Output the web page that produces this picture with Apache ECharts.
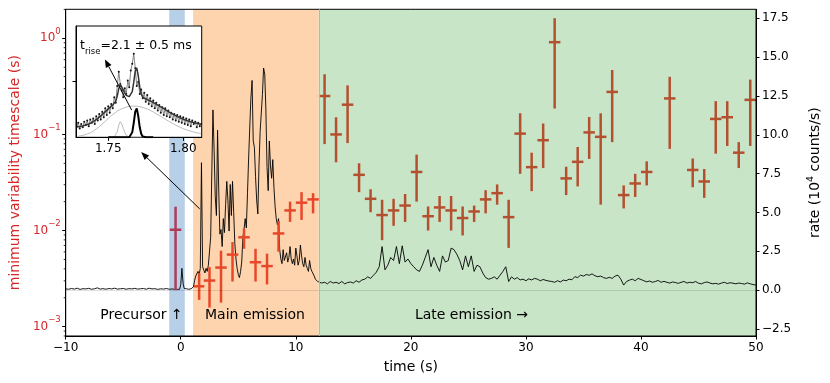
<!DOCTYPE html>
<html>
<head>
<meta charset="utf-8">
<script src="https://cdn.jsdelivr.net/npm/echarts@6/dist/echarts.min.js"></script>
<style>
html,body{margin:0;padding:0;background:#fff}
#chart{width:830px;height:383px}
</style>
</head>
<body>
<div id="chart"></div>
<script>
var FONT = 'DejaVu Sans';
var RED = '#d62728';
var MINUS = '\u2212';

// shaded phases (s)
var spanStart = [-1.0, 1.07, 12.0];
var spanEnd = [0.35, 12.0, 50.0];
var spanColor = ['#b7cfe7', '#fdd4ad', '#c8e5c8'];

// ticks
var xTicks = [-10, 0, 10, 20, 30, 40, 50];
var logDecades = [-3, -2, -1, 0];
var rateTicks = [-2.5, 0, 2.5, 5, 7.5, 10, 12.5, 15, 17.5];
var insetTicks = [1.75, 1.80];

// light curve (10^4 counts/s), in pieces with fixed time step
var preStart = -10, preStep = 0.25;
var preRate = [0.08,0.05,0.1,0.06,0.12,0.04,0.09,0.07,0.11,0.05,
  0.08,0.14,0.06,0.09,0.05,0.1,0.07,0.12,0.06,0.08,
  0.1,0.05,0.09,0.07,0.11,0.06,0.08,0.1,0.05,0.12,
  0.07,0.09,0.04,0.08,0.06,0.1,0.05,0.07,0.04];
var precStart = -0.4, precStep = 0.1;
var precRate = [0.06,0.04,0.08,0.05,0.35,1.4,0.45,0.1,0.05,0.08,0.06,0.05,0.1,0.08];
var mainStart = 1.0, mainStep = 0.1;
var mainRate = [0.1,0.2,0.6,0.9,0.8,1.2,1.0,1.4,8.2,1.5,
  1.6,1.1,1.4,1.2,1.6,1.5,3.4,7.6,11.6,9.0,
  6.0,4.8,10.3,6.5,3.6,3.9,2.8,4.6,3.7,5.5,
  7.0,5.8,3.8,6.8,4.8,7.0,5.0,3.0,2.0,1.4,
  1.0,0.8,1.2,1.8,3.4,3.9,4.6,4.0,6.2,8.5,
  10.5,12.4,13.5,9.6,9.2,7.3,5.8,4.9,8.0,10.2,
  11.4,12.6,14.3,13.9,11.6,7.9,6.4,9.6,8.0,7.2,
  8.4,6.6,5.4,4.6,4.2,4.6,2.6,2.0,1.7,2.6,
  1.9,1.8,2.4,1.8,2.1,2.8,2.0,1.7,2.0,1.6,
  2.7,2.2,1.6,1.9,2.9,2.2,1.7,1.5,2.1,1.6,
  1.4,1.2,1.9,1.4,1.2,1.1,0.9,0.7,0.6,0.55,
  0.45];
var lateStart = 12.25, lateStep = 0.25;
var lateRate = [0.45,0.5,0.4,0.55,0.45,0.5,0.42,0.55,0.4,0.48,0.52,0.45,0.6,0.5,0.65,0.7,
  0.85,0.75,0.95,1.15,1.5,2.8,1.3,1.6,2.1,1.9,2.8,1.7,2.85,1.8,2.0,1.7,
  1.5,1.3,1.2,1.6,2.1,2.6,1.5,2.1,1.6,1.2,2.2,1.8,1.9,2.7,2.6,2.3,
  1.9,1.3,2.2,1.5,2.2,1.2,1.6,1.5,1.1,0.8,0.7,0.75,0.85,0.7,0.95,1.2,
  1.5,0.55,0.85,0.7,0.8,0.65,0.7,0.6,0.72,0.65,0.75,0.7,0.6,0.68,0.62,0.58,
  0.55,0.5,0.6,0.52,0.64,0.6,0.7,0.66,0.86,0.8,0.96,0.9,1.0,0.95,1.04,0.92,
  0.86,0.9,0.8,0.75,0.82,0.75,0.9,0.96,0.7,0.32,0.55,0.64,0.7,0.6,0.75,0.68,
  0.6,0.53,0.58,0.5,0.55,0.62,0.5,0.56,0.5,0.45,0.52,0.48,0.43,0.5,0.55,0.45,
  0.5,0.47,0.55,0.44,0.4,0.48,0.52,0.45,0.4,0.43,0.38,0.45,0.5,0.42,0.47,0.44,
  0.4,0.45,0.42,0.38,0.46,0.4,0.35,0.32];

// minimum variability timescale (s) with errors
var precT = [-0.45], precHalf = [0.5];
var precVal = [0.0102], precLo = [0.0024], precHi = [0.0177];

var mainT = [1.6, 2.5, 3.5, 4.5, 5.5, 6.5, 7.5, 8.5, 9.5, 10.5, 11.5];
var mainHalf = [0.45, 0.5, 0.5, 0.5, 0.5, 0.5, 0.5, 0.5, 0.5, 0.5, 0.5];
var mainVal = [0.00263,0.00302,0.00412,0.00562,0.00851,0.00468,0.00427,0.00933,0.0162,0.0195,0.0211];
var mainLo = [0.0019,0.00158,0.00178,0.00295,0.00646,0.00295,0.00275,0.00603,0.0123,0.0129,0.0151];
var mainHi = [0.00363,0.00417,0.00617,0.00759,0.01047,0.00646,0.00575,0.0126,0.0200,0.0251,0.0245];

var lateT = [12.5,13.5,14.5,15.5,16.5,17.5,18.5,19.5,20.5,21.5,22.5,23.5,24.5,25.5,26.5,27.5,28.5,29.5,
  30.5,31.5,32.5,33.5,34.5,35.5,36.5,37.5,38.5,39.5,40.5,42.5,44.5,45.5,46.5,47.5,48.5,49.5];
var lateVal = [0.251,0.100,0.204,0.0380,0.0214,0.0145,0.0162,0.0182,0.0407,0.0141,0.0174,0.0162,0.0135,0.0158,
  0.0211,0.0245,0.0138,0.102,0.0457,0.0871,0.912,0.0349,0.0519,0.105,0.0944,0.277,0.0234,0.0309,0.0407,
  0.237,0.0427,0.0324,0.145,0.151,0.0646,0.229];
var lateLo = [0.0794,0.0513,0.0813,0.0251,0.0155,0.00794,0.0112,0.0123,0.0200,0.0100,0.0123,0.0100,0.0089,0.0123,
  0.0151,0.0186,0.0066,0.0389,0.0257,0.0447,0.186,0.0234,0.0288,0.0555,0.0186,0.0832,0.0170,0.0224,0.0295,
  0.0708,0.0282,0.0219,0.0631,0.0759,0.0447,0.0759];
var lateHi = [0.423,0.151,0.324,0.0501,0.0269,0.0209,0.0214,0.0240,0.0617,0.0178,0.0229,0.0229,0.0178,0.0182,
  0.0263,0.0302,0.0209,0.166,0.0646,0.130,1.62,0.0461,0.0741,0.152,0.166,0.468,0.0295,0.0389,0.0525,
  0.398,0.0562,0.0437,0.222,0.222,0.0832,0.372];

// inset: zoom on the first spike (time in s, arbitrary rate units)
var insetStart = 1.729, insetStep = 0.001;
var insetRate = [1.0,1.3,0.8,1.2,0.9,1.4,1.1,1.5,1.0,1.6,1.3,1.7,1.2,1.9,1.5,2.1,1.6,2.3,1.8,2.6,
  2.0,2.8,2.2,3.0,2.6,3.6,3.1,4.6,5.9,4.8,4.2,3.6,4.4,3.9,5.1,4.5,6.0,6.6,7.5,6.2,
  4.6,5.0,3.9,4.3,3.5,4.0,3.2,3.8,3.0,3.5,2.8,3.3,2.6,3.1,2.4,2.9,2.2,2.7,2.0,2.6,
  1.9,2.4,1.8,2.2,1.6,2.1,1.5,2.0,1.4,1.9,1.3,1.8,1.2,1.7,1.1,1.6,1.0,1.5,1.2,1.4,
  0.9,1.3,1.0,1.2];
var insetFit = [0.93,0.95,0.97,1.0,1.02,1.05,1.1,1.15,1.2,1.25,1.32,1.4,1.5,1.6,1.7,1.8,1.92,2.05,2.17,2.3,
  2.42,2.55,2.67,2.8,2.9,3.02,3.25,3.7,4.37,4.75,4.61,4.27,3.97,3.77,3.67,3.65,3.74,4.1,4.95,5.95,
  6.24,5.53,4.5,3.87,3.61,3.49,3.44,3.39,3.33,3.27,3.2,3.13,3.05,2.97,2.89,2.81,2.73,2.65,2.57,2.48,
  2.4,2.32,2.24,2.16,2.08,2.01,1.94,1.87,1.81,1.75,1.69,1.63,1.58,1.53,1.48,1.44,1.4,1.36,1.32,1.29,
  1.26,1.23,1.2,1.18];
var wideStart = 1.730, wideStep = 0.002;
var insetWide = [0.1,0.15,0.2,0.3,0.4,0.55,0.75,0.95,1.2,1.45,1.7,1.95,2.15,2.35,2.5,2.62,2.72,2.78,2.8,2.8,
  2.78,2.72,2.64,2.54,2.42,2.28,2.12,1.96,1.8,1.63,1.47,1.31,1.16,1.02,0.9,0.78,0.68,0.59,0.51,0.44,
  0.38,0.33];
var pulseStart = 1.750, pulseStep = 0.001;
var insetSmall = [0,0,0,0,0.02,0.15,0.5,1.1,1.4,1.2,0.8,0.45,0.2,0.07,0.02,
  0,0,0,0,0,0,0,0,0,0,0,0,0,0,0,0];
var insetNarrow = [0,0,0,0,0,0,0,0,0,0,0,0,0,0,
  0,0.1,0.45,1.3,2.3,2.6,1.9,0.9,0.3,0.08,
  0,0,0,0,0,0,0];

// arrows [time, value]
var arrowMainFrom = [1.65, 0.0168], arrowMainTo = [-3.44, 0.0655];
var arrowInsetFrom = [1.7656, 2.45], arrowInsetTo = [1.7478, 7.0];

var xMin = -10, xMax = 50, logMin = -3.097, logMax = 0.302, rateMin = -2.96, rateMax = 18.08;
var insetXMin = 1.7285, insetXMax = 1.8123;

function seg(t0, dt, arr) {
  return arr.map(function(v, i) { return [+(t0 + i * dt).toFixed(4), v]; });
}
function lg(v) { return Math.log10(v); }
function signed(s) { return String(s).replace('-', MINUS); }

var lightCurve = seg(preStart, preStep, preRate)
  .concat(seg(precStart, precStep, precRate))
  .concat(seg(mainStart, mainStep, mainRate))
  .concat(seg(lateStart, lateStep, lateRate));

var minorLog = [];
for (var n = -4; n <= 0; n++) {
  for (var k = 2; k <= 9; k++) {
    var v = lg(k) + n;
    if (v > logMin && v < logMax) minorLog.push([xMin, v]);
  }
}

function errSeries(T, H, V, LO, HI, color) {
  return {
    type: 'custom', xAxisIndex: 0, yAxisIndex: 0, z: 4, silent: true,
    encode: {x: 0, y: 1},
    data: T.map(function(t, i) { return [t, lg(V[i]), lg(LO[i]), lg(HI[i]), H[i]]; }),
    renderItem: function(params, api) {
      var t = api.value(0), c = api.value(1), d = api.value(4);
      var a = api.coord([t, api.value(2)]), b = api.coord([t, api.value(3)]);
      var l = api.coord([t - d, c]), r = api.coord([t + d, c]);
      return {type: 'group', children: [
        {type: 'line', shape: {x1: a[0], y1: a[1], x2: b[0], y2: b[1]}, style: {stroke: color, lineWidth: 2.5}},
        {type: 'line', shape: {x1: l[0], y1: l[1], x2: r[0], y2: r[1]}, style: {stroke: color, lineWidth: 2.5}}
      ]};
    }
  };
}

function arrowSeries(from, to, xi, yi, z) {
  return {
    type: 'custom', xAxisIndex: xi, yAxisIndex: yi, z: z, silent: true, clip: false,
    encode: {x: 0, y: 1},
    data: [[from[0], from[1], to[0], to[1]]],
    renderItem: function(params, api) {
      var a = api.coord([api.value(0), api.value(1)]), b = api.coord([api.value(2), api.value(3)]);
      var dx = b[0] - a[0], dy = b[1] - a[1], len = Math.sqrt(dx * dx + dy * dy);
      var ux = dx / len, uy = dy / len, hl = 8, hw = 3.2;
      var bx = b[0] - ux * hl, by = b[1] - uy * hl;
      return {type: 'group', children: [
        {type: 'line', shape: {x1: a[0], y1: a[1], x2: bx, y2: by}, style: {stroke: '#000', lineWidth: 1}},
        {type: 'polygon', shape: {points: [[b[0], b[1]], [bx - uy * hw, by + ux * hw], [bx + uy * hw, by - ux * hw]]},
          style: {fill: '#000'}}
      ]};
    }
  };
}

var supRich = {
  b: {fontSize: 12, color: RED, fontFamily: FONT, lineHeight: 17, verticalAlign: 'bottom'},
  s: {fontSize: 8.5, color: RED, fontFamily: FONT, lineHeight: 17, verticalAlign: 'top'}
};

var option = {
  animation: false,
  textStyle: {fontFamily: FONT},
  grid: [
    {left: 65, right: 69.5, top: 9.3, bottom: 47, show: true, borderColor: '#000', borderWidth: 1,
      backgroundColor: 'transparent', z: 5},
    {left: 76, top: 26, width: 125.7, height: 111.3, show: true, borderColor: '#000', borderWidth: 1,
      backgroundColor: '#fff', z: 10}
  ],
  xAxis: [
    {gridIndex: 0, type: 'value', min: xMin, max: xMax, interval: 10, z: 6,
      name: 'time (s)', nameLocation: 'middle', nameGap: 24,
      nameTextStyle: {fontSize: 14, color: '#000', fontFamily: FONT},
      axisLine: {onZero: false, lineStyle: {color: '#000', width: 1}},
      axisTick: {length: 3.5, lineStyle: {color: '#000'}},
      axisLabel: {fontSize: 12, color: '#000', margin: 6, formatter: function(v) { return signed(v); }},
      splitLine: {show: false}},
    {gridIndex: 1, type: 'value', min: insetXMin, max: insetXMax, z: 12,
      axisLine: {onZero: false, lineStyle: {color: '#000', width: 1}},
      axisTick: {length: 3.5, customValues: insetTicks, lineStyle: {color: '#000'}},
      axisLabel: {customValues: insetTicks, fontSize: 12, color: '#000', margin: 6,
        formatter: function(v) { return v.toFixed(2); }},
      splitLine: {show: false}}
  ],
  yAxis: [
    {gridIndex: 0, type: 'value', position: 'left', min: logMin, max: logMax, z: 6,
      name: 'minimum variability timescale (s)', nameLocation: 'middle', nameGap: 38, nameRotate: 90,
      nameTextStyle: {fontSize: 14, color: RED, fontFamily: FONT},
      axisLine: {show: true, onZero: false, lineStyle: {color: '#000', width: 1}},
      axisTick: {show: true, length: 3.5, customValues: logDecades, lineStyle: {color: '#000'}},
      axisLabel: {customValues: logDecades, margin: 5, padding: [0, 0, 5, 0], rich: supRich,
        formatter: function(v) { return '{b|10}{s|' + signed(v) + '}'; }},
      splitLine: {show: false}},
    {gridIndex: 0, type: 'value', position: 'right', min: rateMin, max: rateMax, z: 6,
      name: 'rate (10{s|4} counts/s)', nameLocation: 'middle', nameGap: 50, nameRotate: 90,
      nameTextStyle: {fontSize: 14, color: '#000', fontFamily: FONT,
        rich: {s: {fontSize: 9.5, color: '#000', fontFamily: FONT, lineHeight: 18, verticalAlign: 'top'}}},
      axisLine: {show: true, onZero: false, lineStyle: {color: '#000', width: 1}},
      axisTick: {show: true, length: 3.5, customValues: rateTicks, lineStyle: {color: '#000'}},
      axisLabel: {customValues: rateTicks, fontSize: 12, color: '#000', margin: 6,
        formatter: function(v) { return signed(v.toFixed(1)); }},
      splitLine: {show: false}},
    {gridIndex: 1, type: 'value', min: 0, max: 10, z: 12,
      axisLine: {show: true, onZero: false, lineStyle: {color: '#000', width: 1}},
      axisTick: {show: true, length: 3.5, customValues: [5], lineStyle: {color: '#000'}},
      axisLabel: {show: false},
      splitLine: {show: false}}
  ],
  series: [
    {type: 'custom', xAxisIndex: 0, yAxisIndex: 0, z: 1, silent: true,
      encode: {x: 0, y: 1},
      data: spanStart.map(function(s, i) { return [s, spanEnd[i], i]; }),
      renderItem: function(params, api) {
        var a = api.coord([api.value(0), 0]), b = api.coord([api.value(1), 0]);
        var cs = params.coordSys;
        return {type: 'rect', shape: {x: a[0], y: cs.y, width: b[0] - a[0], height: cs.height},
          style: {fill: spanColor[api.value(2)]}};
      }},
    {type: 'line', xAxisIndex: 0, yAxisIndex: 1, z: 3, silent: true,
      data: lightCurve, showSymbol: false,
      lineStyle: {color: '#000', width: 0.9},
      markLine: {silent: true, symbol: 'none', label: {show: false}, animation: false,
        data: [
          {yAxis: 0, lineStyle: {color: 'rgba(0,0,0,0.12)', width: 1, type: 'solid'}},
          {xAxis: 12, lineStyle: {color: '#b5c46f', width: 1, type: 'solid'}}
        ]}},
    errSeries(precT, precHalf, precVal, precLo, precHi, '#b03b58'),
    errSeries(mainT, mainHalf, mainVal, mainLo, mainHi, '#e8482a'),
    errSeries(lateT, lateT.map(function() { return 0.5; }), lateVal, lateLo, lateHi, '#b4502f'),
    {type: 'custom', xAxisIndex: 0, yAxisIndex: 0, z: 6, silent: true, clip: false,
      encode: {x: 0, y: 1}, data: minorLog,
      renderItem: function(params, api) {
        var p = api.coord([api.value(0), api.value(1)]);
        return {type: 'line', shape: {x1: p[0] - 2, y1: p[1], x2: p[0], y2: p[1]},
          style: {stroke: '#000', lineWidth: 0.8}};
      }},
    arrowSeries([arrowMainFrom[0], lg(arrowMainFrom[1])], [arrowMainTo[0], lg(arrowMainTo[1])], 0, 0, 4),
    {type: 'line', xAxisIndex: 1, yAxisIndex: 2, z: 11, silent: true,
      data: seg(insetStart, insetStep, insetRate), showSymbol: true, symbol: 'circle', symbolSize: 2,
      itemStyle: {color: '#111'}, lineStyle: {color: '#777', width: 0.9}},
    {type: 'line', xAxisIndex: 1, yAxisIndex: 2, z: 12, silent: true,
      data: seg(wideStart, wideStep, insetWide), showSymbol: false,
      lineStyle: {color: '#aaa', width: 0.8}},
    {type: 'line', xAxisIndex: 1, yAxisIndex: 2, z: 12, silent: true,
      data: seg(pulseStart, pulseStep, insetSmall), showSymbol: false,
      lineStyle: {color: '#aaa', width: 0.8}},
    {type: 'line', xAxisIndex: 1, yAxisIndex: 2, z: 13, silent: true,
      data: seg(pulseStart, pulseStep, insetNarrow), showSymbol: false,
      lineStyle: {color: '#000', width: 2}},
    {type: 'line', xAxisIndex: 1, yAxisIndex: 2, z: 13, silent: true,
      data: seg(insetStart, insetStep, insetFit), showSymbol: false,
      lineStyle: {color: '#333', width: 1.5}},
    arrowSeries(arrowInsetFrom, arrowInsetTo, 1, 2, 14)
  ],
  graphic: [
    {type: 'text', x: 141.5, y: 315, z: 20, silent: true,
      style: {text: 'Precursor \u2191', font: '14px "DejaVu Sans"', fill: '#000', align: 'center', verticalAlign: 'middle'}},
    {type: 'text', x: 255, y: 315, z: 20, silent: true,
      style: {text: 'Main emission', font: '14px "DejaVu Sans"', fill: '#000', align: 'center', verticalAlign: 'middle'}},
    {type: 'text', x: 471.5, y: 315, z: 20, silent: true,
      style: {text: 'Late emission \u2192', font: '14px "DejaVu Sans"', fill: '#000', align: 'center', verticalAlign: 'middle'}},
    {type: 'text', x: 80, y: 39, z: 20, silent: true,
      style: {text: '{t|t}{u|rise}{t|=2.1 \u00b1 0.5 ms}', fill: '#000',
        rich: {
          t: {fontSize: 12.5, fontFamily: FONT, fill: '#000', lineHeight: 17, verticalAlign: 'top'},
          u: {fontSize: 8.5, fontFamily: FONT, fill: '#000', lineHeight: 17, verticalAlign: 'bottom'}
        }}}
  ]
};

var chart = echarts.init(document.getElementById('chart'), null, {renderer: 'canvas'});
chart.setOption(option);
</script>
</body>
</html>
